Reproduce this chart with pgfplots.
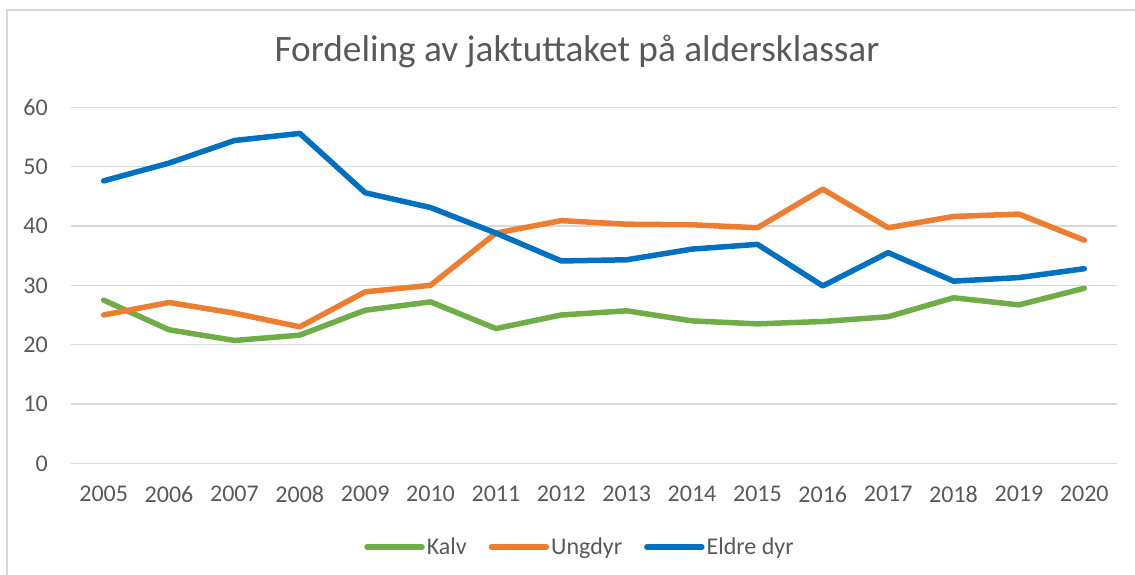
\documentclass[border=0pt]{standalone}
\usepackage{pgfplots}
\pgfplotsset{compat=1.18}
\usepackage{fontspec}
\setmainfont{Carlito}
\definecolor{txtgray}{RGB}{89,89,89}
\definecolor{gridgray}{RGB}{217,217,217}
\definecolor{kalv}{RGB}{112,173,71}
\definecolor{ungdyr}{RGB}{237,125,49}
\definecolor{eldre}{RGB}{0,112,192}

\pgfplotstableread{
x yr kalv ungdyr eldre
0 2005 27.5 25.0 47.6
1 2006 22.5 27.1 50.6
2 2007 20.7 25.3 54.4
3 2008 21.6 23.0 55.6
4 2009 25.8 28.9 45.6
5 2010 27.2 30.0 43.1
6 2011 22.7 38.8 38.8
7 2012 25.0 40.9 34.1
8 2013 25.7 40.3 34.3
9 2014 24.0 40.2 36.1
10 2015 23.5 39.7 36.9
11 2016 23.9 46.2 29.9
12 2017 24.7 39.7 35.5
13 2018 27.9 41.6 30.7
14 2019 26.7 42.0 31.3
15 2020 29.5 37.6 32.8
}\datatable

\begin{document}
\begin{tikzpicture}
\useasboundingbox (0,0) rectangle (1135pt,575pt);
% chart area border (cut off on right and bottom)
\draw[gridgray, line width=2pt] (7pt,-10pt) -- (7pt,565pt) -- (1150pt,565pt);
\node[font=\fontsize{37.3}{44}\selectfont, text=txtgray] at (577pt,523pt) {Fordeling av jaktuttaket på aldersklassar};
\begin{axis}[
    at={(71pt,111.7pt)}, anchor=south west,
    scale only axis,
    width=1046pt, height=356pt,
    xmin=-0.5, xmax=15.5,
    ymin=0, ymax=60,
    axis line style={draw=none},
    ymajorgrids,
    grid style={gridgray, line width=1.5pt},
    xtick={0,...,15},
    xticklabels={2005,2006,2007,2008,2009,2010,2011,2012,2013,2014,2015,2016,2017,2018,2019,2020},
    ytick={0,10,...,60},
    major tick length=0pt,
    tick label style={font=\fontsize{24}{28}\selectfont, text=txtgray, inner sep=0pt},
    /pgf/number format/assume math mode=true,
    xticklabel style={anchor=north, yshift=-22.5pt},
    yticklabel style={anchor=east, xshift=-23pt},
    clip=false,
    legend columns=3,
    legend style={
        draw=none, fill=none,
        at={(0.4866,-0.235)}, anchor=center,
        font=\fontsize{24}{28}\selectfont, text=txtgray,
        /tikz/every even column/.append style={column sep=20pt},
        nodes={inner sep=2pt}
    },
    legend image code/.code={\draw[#1, line cap=round] (0pt,0pt) -- (55pt,0pt);},
]
\addplot[kalv, line width=5.5pt, line join=round, line cap=round] table[x=x, y=kalv] {\datatable};
\addplot[ungdyr, line width=5.5pt, line join=round, line cap=round] table[x=x, y=ungdyr] {\datatable};
\addplot[eldre, line width=5.5pt, line join=round, line cap=round] table[x=x, y=eldre] {\datatable};
\legend{Kalv, Ungdyr, Eldre dyr}
\end{axis}
\end{tikzpicture}
\end{document}
